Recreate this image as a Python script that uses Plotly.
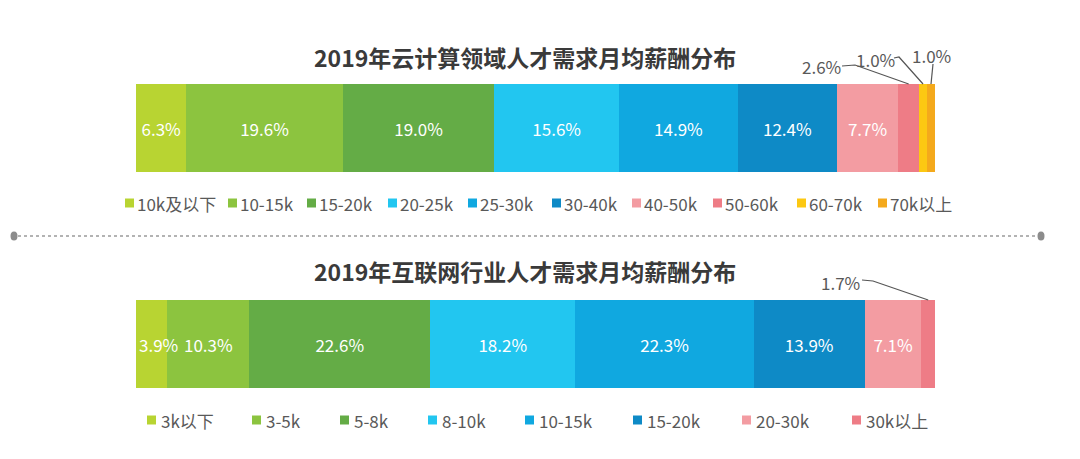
import plotly.graph_objects as go

W, H = 1080, 459

cloud_title = "2019年云计算领域人才需求月均薪酬分布"
cloud_cats = ["10k及以下", "10-15k", "15-20k", "20-25k", "25-30k", "30-40k",
              "40-50k", "50-60k", "60-70k", "70k以上"]
cloud_vals = [6.3, 19.6, 19.0, 15.6, 14.9, 12.4, 7.7, 2.6, 1.0, 1.0]
cloud_colors = ["#b8d432", "#8cc43f", "#64ac46", "#22c6f0", "#10a8e0", "#0e8ac6",
                "#f39ca2", "#ee7c86", "#fcc812", "#f4a91c"]

net_title = "2019年互联网行业人才需求月均薪酬分布"
net_cats = ["3k以下", "3-5k", "5-8k", "8-10k", "10-15k", "15-20k", "20-30k", "30k以上"]
net_vals = [3.9, 10.3, 22.6, 18.2, 22.3, 13.9, 7.1, 1.7]
net_colors = ["#b8d432", "#8cc43f", "#64ac46", "#22c6f0", "#10a8e0", "#0e8ac6",
              "#f39ca2", "#ee7c86"]

FONT = "Noto Sans CJK SC"
TXT = "#595959"

BAR_L, BAR_R = 136, 935
top_bar = (84, 172)
bot_bar = (300, 388)


def py(p):
    return 1 - p / H


def px(p):
    return p / W


fig = go.Figure()
ann = []
shapes = []


def mid(vals, i):
    return sum(vals[:i]) + vals[i] / 2


def add_bars(cats, vals, colors, xa, ya):
    for i, (c, v, col) in enumerate(zip(cats, vals, colors)):
        fig.add_trace(go.Bar(
            y=[0], x=[v], orientation="h", name=c, width=1,
            marker=dict(color=col, line=dict(width=0)),
            text=[f"{v:.1f}%" if v >= 5 else ""],
            textposition="inside", insidetextanchor="middle",
            textangle=0, constraintext="none", cliponaxis=False,
            textfont=dict(color="white", size=17, family=FONT),
            xaxis=xa, yaxis=ya, showlegend=False, hoverinfo="skip",
        ))
        if 3 <= v < 5:
            # label wider than its segment: starts at the segment's left edge
            ann.append(dict(text=f"{v:.1f}%", x=sum(vals[:i]), y=0, xref=xa, yref=ya,
                            showarrow=False, xanchor="left", yanchor="middle", xshift=1,
                            font=dict(size=17, color="white", family=FONT)))


add_bars(cloud_cats, cloud_vals, cloud_colors, "x", "y")
add_bars(net_cats, net_vals, net_colors, "x2", "y2")

tot1 = sum(cloud_vals)
tot2 = sum(net_vals)

fig.update_layout(
    width=W, height=H, margin=dict(l=0, r=0, t=0, b=0),
    paper_bgcolor="white", plot_bgcolor="white",
    barmode="stack",
    font=dict(family=FONT, color=TXT),
    xaxis=dict(domain=[px(BAR_L), px(BAR_R)], range=[0, tot1], visible=False, fixedrange=True),
    yaxis=dict(domain=[py(top_bar[1]), py(top_bar[0])], range=[-0.5, 0.5], visible=False),
    xaxis2=dict(domain=[px(BAR_L), px(BAR_R)], range=[0, tot2], visible=False, anchor="y2"),
    yaxis2=dict(domain=[py(bot_bar[1]), py(bot_bar[0])], range=[-0.5, 0.5], visible=False, anchor="x2"),
)

# titles
for t, yy in [(cloud_title, 57), (net_title, 271)]:
    ann.append(dict(text=f"<b>{t}</b>", x=px(525), y=py(yy), xref="paper", yref="paper",
                    showarrow=False, xanchor="center", yanchor="middle",
                    font=dict(size=23, color="#3a3a3a", family=FONT)))


# outside labels with leader lines
def to_data(p, tot):
    return (p - BAR_L) / (BAR_R - BAR_L) * tot


def outside(vals, i, tot, xref, lab_cx, lab_cy, pts, bar_top):
    ann.append(dict(text=f"{vals[i]:.1f}%", x=px(lab_cx), y=py(lab_cy), xref="paper", yref="paper",
                    showarrow=False, xanchor="center", yanchor="middle",
                    font=dict(size=17, color=TXT, family=FONT)))
    path = ""
    for k, (a, b) in enumerate(pts):
        path += ("M" if k == 0 else "L") + f"{to_data(a, tot)},{py(b)} "
    path += f"L{mid(vals, i)},{py(bar_top)}"
    shapes.append(dict(type="path", path=path, xref=xref, yref="paper",
                       line=dict(color="#555555", width=1.2)))


outside(cloud_vals, 7, tot1, "x", 821, 67, [(842, 66), (855, 65)], 84)
outside(cloud_vals, 8, tot1, "x", 875, 59, [(894, 58), (899, 57)], 84)
outside(cloud_vals, 9, tot1, "x", 931, 56, [(933, 64)], 84)
outside(net_vals, 7, tot2, "x2", 840, 282, [(862, 280), (873, 281)], 300)


# legends
def legend(cats, colors, xs, yc, gap):
    for c, col, x0 in zip(cats, colors, xs):
        shapes.append(dict(type="rect", xref="paper", yref="paper",
                           x0=px(x0), x1=px(x0 + 9), y0=py(yc + 4.5), y1=py(yc - 4.5),
                           fillcolor=col, line=dict(width=0)))
        ann.append(dict(text=c, x=px(x0 + gap), y=py(yc), xref="paper", yref="paper",
                        showarrow=False, xanchor="left", yanchor="middle",
                        font=dict(size=17, color=TXT, family=FONT)))


legend(cloud_cats, cloud_colors, [125, 228, 307, 388, 468, 552, 632, 713, 797, 878], 203, 10)
legend(net_cats, net_colors, [147, 252, 340, 428, 525, 633, 742, 852], 420, 12)

# divider
shapes.append(dict(type="line", xref="paper", yref="paper", x0=px(18), x1=px(1038),
                   y0=py(236), y1=py(236), line=dict(color="#9a9a9a", width=1.5, dash="dot")))
for cx in (14, 1041):
    shapes.append(dict(type="circle", xref="paper", yref="paper",
                       x0=px(cx - 3.5), x1=px(cx + 3.5), y0=py(236 + 4.5), y1=py(236 - 4.5),
                       fillcolor="#8c8c8c", line=dict(width=0)))

fig.update_layout(annotations=ann, shapes=shapes)
fig.write_html("out.html", config={"displayModeBar": False},
               post_script="document.body.style.margin='0';")
